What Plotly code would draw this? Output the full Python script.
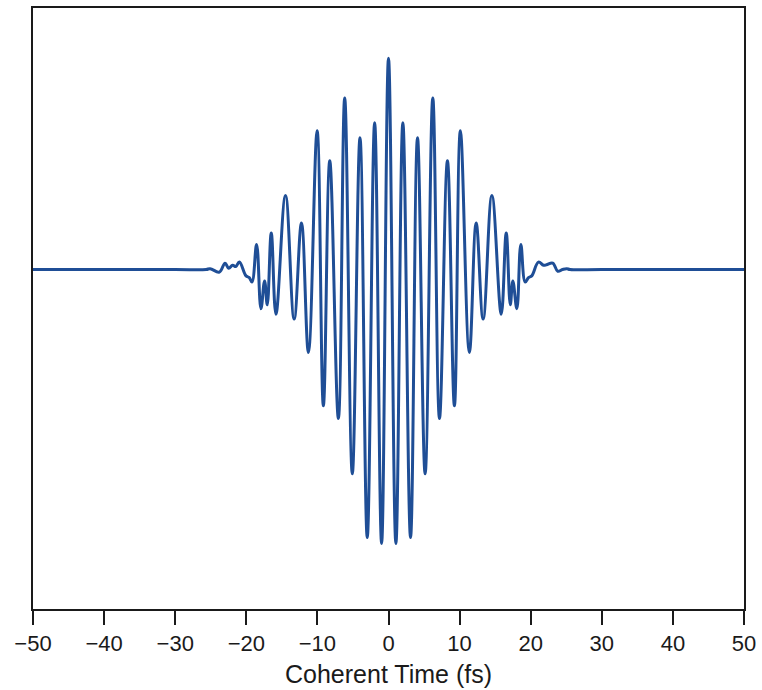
import plotly.graph_objects as go

# Coherent-time trace: extrema of the interferogram (fs, normalised amplitude)
time_fs = [
    -50.0, -40.0, -30.0, -25.65, -25.09, -23.79, -22.99, -22.48, -21.92, -21.47, -20.98,
    -20.04, -19.58, -19.20, -18.55, -17.94, -17.43, -17.05, -16.49, -15.83,
    -14.49, -13.27, -12.24, -11.26, -10.04, -9.16, -8.26, -7.05, -6.16,
    -5.09, -4.01, -2.99, -1.95, -0.97, 0.0,
    1.04, 2.02, 3.10, 4.08, 5.15, 6.23, 7.17, 8.29, 9.27, 10.11, 11.37,
    12.33, 13.31, 14.54, 15.86, 16.56, 17.13, 17.49, 18.05, 18.61, 19.23,
    19.69, 20.15, 21.09, 21.80, 22.22, 23.10, 23.80, 24.46, 25.06, 25.54,
    30.0, 40.0, 50.0,
]
signal = [
    0.0, 0.0, 0.0, 0.0, 0.004, -0.012, 0.030, 0.006, 0.020, 0.014, 0.035,
    -0.030, -0.038, -0.059, 0.118, -0.184, -0.054, -0.166, 0.172, -0.210,
    0.348, -0.233, 0.219, -0.390, 0.652, -0.640, 0.511, -0.700, 0.806,
    -0.960, 0.620, -1.260, 0.690, -1.288, 0.993,
    -1.288, 0.690, -1.260, 0.620, -0.960, 0.806, -0.700, 0.511, -0.640, 0.652, -0.390,
    0.219, -0.233, 0.348, -0.210, 0.172, -0.166, -0.054, -0.184, 0.118, -0.059,
    -0.038, -0.030, 0.035, 0.020, 0.022, 0.030, -0.008, 0.0, 0.004, 0.0,
    0.0, 0.0, 0.0,
]

x_ticks = [-50, -40, -30, -20, -10, 0, 10, 20, 30, 40, 50]
x_tick_text = ["\u221250", "\u221240", "\u221230", "\u221220", "\u221210",
               "0", "10", "20", "30", "40", "50"]

fig = go.Figure()
fig.add_trace(go.Scatter(
    x=time_fs, y=signal, mode="lines",
    line=dict(color="#1f4e96", width=3, shape="spline", smoothing=1.15),
    hoverinfo="skip", showlegend=False,
))

axis_font = dict(family="Liberation Sans, Arial, sans-serif", color="#1a1a1a")

fig.update_layout(
    width=762, height=690,
    margin=dict(l=33, r=15, t=6, b=81),
    paper_bgcolor="white", plot_bgcolor="white",
    font=axis_font,
    xaxis=dict(
        range=[-50, 50], tickvals=x_ticks, ticktext=x_tick_text,
        ticks="outside", ticklen=14, tickwidth=2, tickcolor="#1a1a1a",
        showline=True, linewidth=2, linecolor="#1a1a1a", mirror=True,
        showgrid=False, zeroline=False,
        tickfont=dict(size=22),
        title=dict(text="Coherent Time (fs)", font=dict(size=25), standoff=10),
    ),
    yaxis=dict(
        range=[-1.596, 1.2295],
        showticklabels=False, ticks="",
        showline=True, linewidth=2, linecolor="#1a1a1a", mirror=True,
        showgrid=False, zeroline=False,
    ),
)

fig.write_html("out.html")
